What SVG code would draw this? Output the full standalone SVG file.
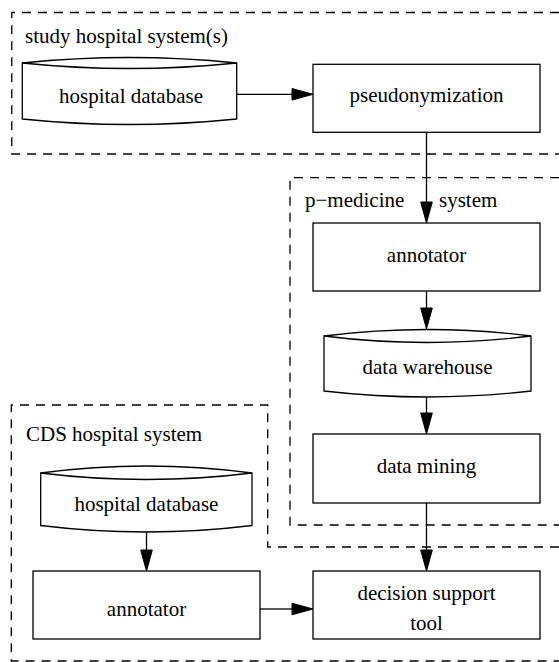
<svg xmlns="http://www.w3.org/2000/svg" width="559" height="662" viewBox="0 0 559 662">
<style>
text{font-family:"Liberation Serif","Times New Roman",serif;font-size:21px;fill:#000}
.c{text-anchor:middle}
.box{fill:#fff;stroke:#000;stroke-width:1.3}
.cl{fill:none;stroke:#000;stroke-width:1.3;stroke-dasharray:9,7}
.e{fill:none;stroke:#000;stroke-width:1.3}
.ah{fill:#000;stroke:#000;stroke-width:1}
</style>
<rect width="559" height="662" fill="#fff"/>
<g id="clusters">
<path id="cluster-study" class="cl" d="M575,12.5 H11.8 V154 H575"/>
<path id="cluster-pmed" class="cl" d="M575,177.7 H290 V525 H575"/>
<path id="cluster-cds" class="cl" d="M575,547 H267.7 V405 H11.3 V661 H575"/>
<text x="25" y="43">study hospital system(s)</text>
<text x="305" y="207">p−medicine <tspan x="439">system</tspan></text>
<text x="26" y="441">CDS hospital system</text>
</g>
<g id="connectors">
<path class="e" d="M236.7,94.3 H292"/>
<polygon class="ah" points="313,94.3 292,88.5 292,100.1"/>
<path class="e" d="M426.5,132.3 V202"/>
<polygon class="ah" points="426.5,223 420.7,202 432.3,202"/>
<path class="e" d="M426.5,291 V308"/>
<polygon class="ah" points="426.5,329 420.7,308 432.3,308"/>
<path class="e" d="M426.5,397 V413"/>
<polygon class="ah" points="426.5,434 420.7,413 432.3,413"/>
<path class="e" d="M426.5,503 V550"/>
<polygon class="ah" points="426.5,571 420.7,550 432.3,550"/>
<path class="e" d="M146.5,532 V550"/>
<polygon class="ah" points="146.5,571 140.7,550 152.3,550"/>
<path class="e" d="M260,609 H292"/>
<polygon class="ah" points="313,609 292,603.2 292,614.8"/>
</g>
<g id="n-hospdb1">
<path class="box" d="M22.3,63 Q129.5,52 236.7,63 V119 Q129.5,130 22.3,119 Z"/>
<path class="e" d="M22.3,63 Q129.5,74 236.7,63"/>
<text class="c" x="131" y="103">hospital database</text>
</g>
<g id="n-pseudo">
<rect class="box" x="313" y="64.3" width="227" height="68"/>
<text class="c" x="426.5" y="102">pseudonymization</text>
</g>
<g id="n-annot1">
<rect class="box" x="313" y="223" width="227" height="68"/>
<text class="c" x="426.5" y="261.5">annotator</text>
</g>
<g id="n-warehouse">
<path class="box" d="M324,336 Q427.5,323 531,336 V391 Q427.5,403 324,391 Z"/>
<path class="e" d="M324,336 Q427.5,349 531,336"/>
<text class="c" x="427.5" y="374">data warehouse</text>
</g>
<g id="n-mining">
<rect class="box" x="313" y="434" width="227" height="69"/>
<text class="c" x="426.5" y="473">data mining</text>
</g>
<g id="n-dst">
<rect class="box" x="313" y="571" width="227" height="68"/>
<text class="c" x="426.5" y="600">decision support</text>
<text class="c" x="426.5" y="629.5">tool</text>
</g>
<g id="n-hospdb2">
<path class="box" d="M40.7,473 Q146.4,459 252,473 V525.5 Q146.4,538.5 40.7,525.5 Z"/>
<path class="e" d="M40.7,473 Q146.4,486 252,473"/>
<text class="c" x="146.4" y="510.5">hospital database</text>
</g>
<g id="n-annot2">
<rect class="box" x="33" y="571" width="227" height="68"/>
<text class="c" x="146.5" y="616">annotator</text>
</g>
</svg>
